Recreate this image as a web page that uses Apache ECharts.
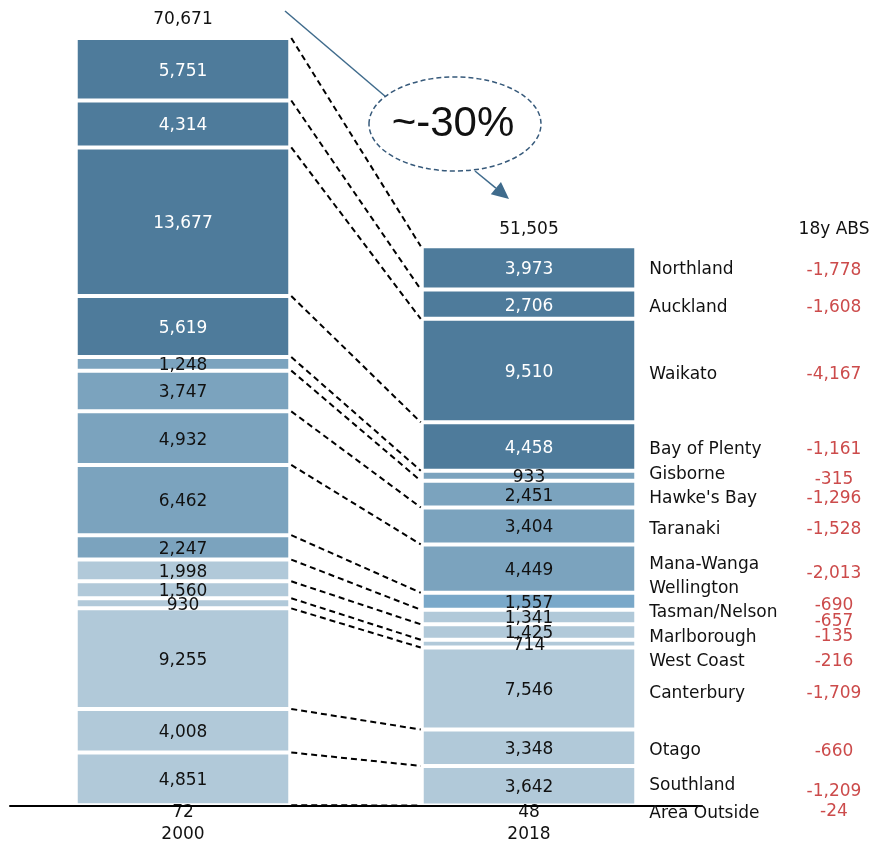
<!DOCTYPE html>
<html>
<head>
<meta charset="utf-8">
<title>Regional totals, 2000 vs 2018</title>
<script src="https://cdn.jsdelivr.net/npm/echarts@6/dist/echarts.min.js"></script>
<style>
  html, body { margin: 0; padding: 0; background: #ffffff; }
  #chart { width: 872px; height: 845px; }
</style>
</head>
<body>
<div id="chart"></div>
<script>
// Regions, listed from the top of each stacked bar down to the bottom
const regions = ['Northland', 'Auckland', 'Waikato', 'Bay of Plenty', 'Gisborne', "Hawke's Bay",
  'Taranaki', 'Mana-Wanga', 'Wellington', 'Tasman/Nelson', 'Marlborough', 'West Coast',
  'Canterbury', 'Otago', 'Southland', 'Area Outside'];
const years = ['2000', '2018'];
const values2000 = [5751, 4314, 13677, 5619, 1248, 3747, 4932, 6462, 2247, 1998, 1560, 930, 9255, 4008, 4851, 72];
const values2018 = [3973, 2706, 9510, 4458, 933, 2451, 3404, 4449, 1557, 1341, 1425, 714, 7546, 3348, 3642, 48];
const changeHeader = '18y ABS';
const changeNote = '~-30%';

// Styling
const FONT = 'DejaVu Sans';
const TEXT_DY = 2;
const BAR_RATIO = 0.62;
const tierColors = ['#4e7b9b', '#7ba3be', '#b1c9d9'];
const regionTier = [0, 0, 0, 0, 1, 1, 1, 1, 1, 2, 2, 2, 2, 2, 2, 2];
const wellington2018Color = '#79a8c9';
// small vertical nudges for the right-hand text column (px)
const nameNudge = [0, 1, 2, 1, -3, 2, 2, -6, -15, -6, 4, 16, 3, 1, -2, 6];
const changeNudge = [1, 1, 2, 1, 2, 2, 2, 3, 2, 3, 3, 16, 3, 2, 4, 4];

const fmt = v => v.toLocaleString('en-US');
const sum = a => a.reduce((s, v) => s + v, 0);
const total2000 = sum(values2000);
const total2018 = sum(values2018);

// top edge of each region's segment (stack runs from the bottom region up)
function segmentTops(vals) {
  const tot = sum(vals);
  let acc = 0;
  return vals.map(v => { const top = tot - acc; acc += v; return top; });
}
const tops2000 = segmentTops(values2000);
const tops2018 = segmentTops(values2018);

const chart = echarts.init(document.getElementById('chart'), null, { renderer: 'canvas' });

const series = [];
for (let i = regions.length - 1; i >= 0; i--) {
  const dark = regionTier[i] === 0;
  series.push({
    type: 'bar',
    name: regions[i],
    stack: 'total',
    barWidth: (BAR_RATIO * 100) + '%',
    data: [
      values2000[i],
      i === 8 ? { value: values2018[i], itemStyle: { color: wellington2018Color } } : values2018[i]
    ],
    itemStyle: { color: tierColors[regionTier[i]], borderColor: '#ffffff', borderWidth: 2 },
    label: {
      show: true,
      position: 'inside',
      formatter: p => fmt(p.value),
      color: dark ? '#ffffff' : '#111111',
      fontFamily: FONT,
      fontSize: 17,
      offset: i === regions.length - 1 ? [0, 5 + TEXT_DY] : [0, TEXT_DY]
    },
    z: 2
  });
}

// dashed connectors between matching segment tops of the two bars
series.push({
  type: 'custom',
  name: 'connectors',
  coordinateSystem: 'cartesian2d',
  silent: true,
  z: 4,
  encode: { x: 0, y: [1, 2] },
  data: regions.map((r, i) => [0, tops2000[i], tops2018[i]]),
  renderItem: (params, api) => {
    const a = api.coord([0, api.value(1)]);
    const b = api.coord([1, api.value(2)]);
    const half = api.size([1, 0])[0] * BAR_RATIO / 2;
    return {
      type: 'line',
      shape: { x1: a[0] + half + 1, y1: a[1], x2: b[0] - half - 1, y2: b[1] },
      style: { stroke: '#000000', lineWidth: 2, lineDash: [6, 4] }
    };
  }
});

chart.setOption({
  animation: false,
  backgroundColor: '#ffffff',
  grid: { left: 10, right: 170, top: 38, bottom: 39 },
  xAxis: {
    type: 'category',
    data: years,
    axisLine: { show: true, lineStyle: { color: '#000000', width: 2 } },
    axisTick: { show: false },
    axisLabel: { color: '#111111', fontFamily: FONT, fontSize: 17, margin: 20 },
    z: 3
  },
  yAxis: {
    type: 'value',
    min: 0,
    max: total2000,
    show: false,
    splitLine: { show: false }
  },
  series: series
});

// text column, totals and the change callout
const graphics = [];
const px = (cat, v) => chart.convertToPixel({ gridIndex: 0 }, [cat, v]);

const top2000Px = px('2000', total2000);
const top2018Px = px('2018', total2018);
const txt = (text, x, y, extra) => Object.assign({
  type: 'text', x: x, y: y + TEXT_DY, z: 10,
  style: Object.assign({ text: text, fontFamily: FONT, fontSize: 17, fill: '#111111',
    align: 'center', verticalAlign: 'middle' }, extra || {})
});
graphics.push(txt(fmt(total2000), top2000Px[0], top2000Px[1] - 20));
graphics.push(txt(fmt(total2018), top2018Px[0], top2018Px[1] - 19));

const barRight2018 = top2018Px[0] + (chart.getWidth() - 10 - 170) / 2 * BAR_RATIO / 2;
const nameX = barRight2018 + 13;
const changeX = 834;
graphics.push(txt(changeHeader, changeX, top2018Px[1] - 19));

regions.forEach((r, i) => {
  const mid = (tops2018[i] - values2018[i] / 2);
  const y = px('2018', mid)[1];
  graphics.push(txt(r, nameX, y + nameNudge[i], { align: 'left' }));
  graphics.push(txt(fmt(values2018[i] - values2000[i]), changeX, y + changeNudge[i], { fill: '#cc4b4b' }));
});

// callout: line from the first total into a dashed ellipse, arrow on to the second total
const calloutColor = '#3f6b8c';
graphics.push({
  type: 'line', z: 10,
  shape: { x1: 285, y1: 11, x2: 386, y2: 97 },
  style: { stroke: calloutColor, lineWidth: 1.5 }
});
graphics.push({
  type: 'ellipse', z: 10,
  shape: { cx: 455, cy: 124, rx: 86, ry: 47 },
  style: { fill: '#ffffff', stroke: '#36597a', lineWidth: 1.5, lineDash: [5, 3] }
});
graphics.push({
  type: 'text', z: 11, x: 453, y: 124,
  style: { text: changeNote, fontFamily: 'Liberation Sans', fontSize: 42, fill: '#111111',
    align: 'center', verticalAlign: 'middle' }
});
(function arrow() {
  const x1 = 475, y1 = 171, x2 = 509, y2 = 199;
  const ang = Math.atan2(y2 - y1, x2 - x1);
  const len = 17, wid = 8;
  const bx = x2 - len * Math.cos(ang), by = y2 - len * Math.sin(ang);
  graphics.push({
    type: 'line', z: 10,
    shape: { x1: x1, y1: y1, x2: bx, y2: by },
    style: { stroke: calloutColor, lineWidth: 1.5 }
  });
  graphics.push({
    type: 'polygon', z: 10,
    shape: { points: [[x2, y2],
      [bx + wid * Math.sin(ang), by - wid * Math.cos(ang)],
      [bx - wid * Math.sin(ang), by + wid * Math.cos(ang)]] },
    style: { fill: calloutColor }
  });
})();

chart.setOption({ graphic: graphics });
</script>
</body>
</html>
